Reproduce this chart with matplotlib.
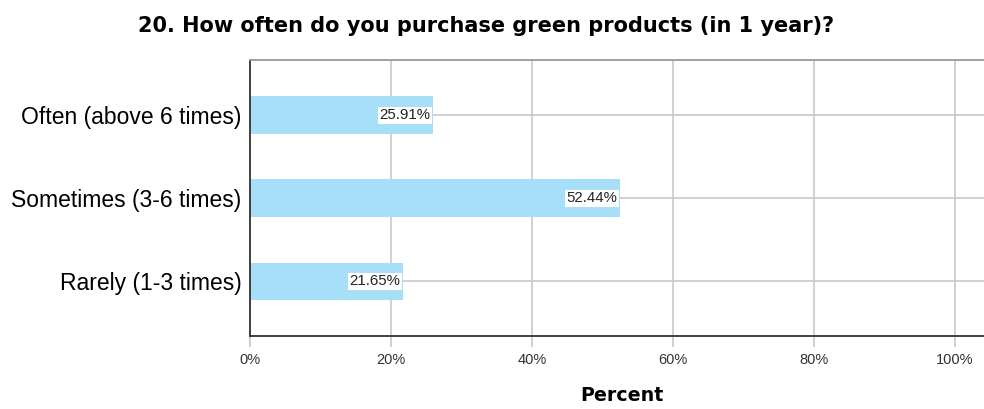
import matplotlib.pyplot as plt

categories = ["Often (above 6 times)", "Sometimes (3-6 times)", "Rarely (1-3 times)"]
percents = [25.91, 52.44, 21.65]
xticks = [0, 20, 40, 60, 80, 100]
xtick_labels = ["0%", "20%", "40%", "60%", "80%", "100%"]

BAR_COLOR = "#a8dff8"
GRID_COLOR = "#c8c8c8"

plt.rcParams["font.family"] = ["Liberation Sans", "DejaVu Sans"]

fig = plt.figure(figsize=(9.84, 4.09), dpi=100)
ax = fig.add_axes([0.254, 0.178, 0.756, 0.675])

ypos = list(range(len(categories)))
ax.barh(ypos, percents, height=0.45, color=BAR_COLOR, zorder=2)

# value labels in a white box at the bar end
for y, v in zip(ypos, percents):
    ax.text(v - 0.35, y, f"{v:.2f}%", ha="right", va="center", fontsize=10.8,
            color="#222222", zorder=3,
            bbox=dict(boxstyle="square,pad=0.1", fc="white", ec="none"))

ax.set_xlim(0, 105.5)
ax.set_ylim(2.66, -0.66)
ax.set_yticks(ypos)
ax.set_yticklabels(categories, fontsize=16.5)
ax.set_xticks(xticks)
ax.set_xticklabels(xtick_labels, fontsize=10.5, color="#333333")

ax.tick_params(axis="y", length=0, pad=6)
ax.tick_params(axis="x", length=8, width=1.2, color=GRID_COLOR, pad=4)

ax.grid(True, color=GRID_COLOR, linewidth=1.2, zorder=0)
ax.set_axisbelow(True)

for side in ["left", "bottom"]:
    ax.spines[side].set_color("#333333")
    ax.spines[side].set_linewidth(1.3)
ax.spines["top"].set_color("#999999")
ax.spines["top"].set_linewidth(1.3)
ax.spines["right"].set_visible(False)

ax.set_xlabel("Percent", fontsize=13.7, fontweight="bold", family="DejaVu Sans",
              labelpad=14)
fig.text(0.494, 0.936, "20. How often do you purchase green products (in 1 year)?",
         ha="center", va="center", fontsize=15, fontweight="bold",
         family="DejaVu Sans")

fig.savefig("out.png", dpi=100)
